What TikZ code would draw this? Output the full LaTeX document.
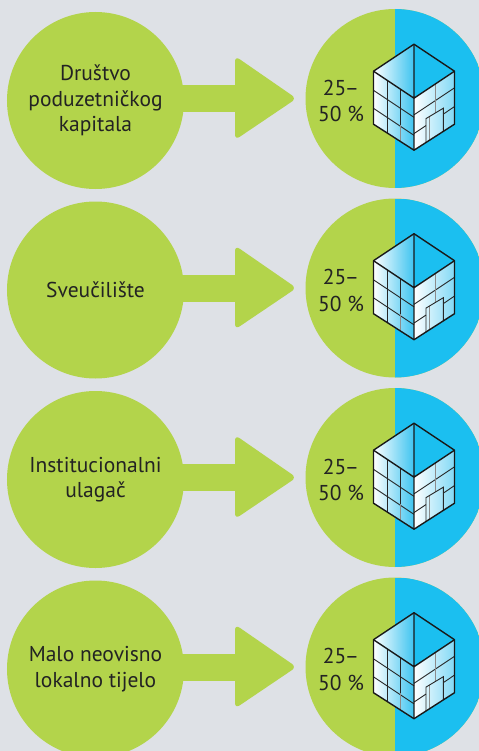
\documentclass[tikz,border=0pt]{standalone}
\usepackage{fontspec}
\setmainfont{PT Sans}
\definecolor{bg}{HTML}{DEE1E6}
\definecolor{egreen}{HTML}{B3D44B}
\definecolor{eblue}{HTML}{1BBFF0}
\definecolor{txt}{HTML}{232323}
\definecolor{faceblue}{HTML}{3EC4F0}
\tikzset{
  srccircle/.style={circle, fill=egreen, minimum size=177bp, inner sep=0pt,
    align=center, text=txt, font=\fontsize{21.5bp}{25.5bp}\selectfont},
  tgtcircle/.style={circle, fill=egreen, minimum size=179bp, inner sep=0pt,
    path picture={\fill[eblue] (path picture bounding box.north) rectangle (path picture bounding box.south east);}},
  pctlabel/.style={align=center, text=txt, inner sep=0pt, font=\fontsize{21.5bp}{26.5bp}\selectfont},
  edgeline/.style={draw=black!90, line width=1.4bp, line join=round},
  gridline/.style={draw=black!85, line width=0.9bp},
  grayline/.style={draw=black!45, line width=0.9bp},
  building/.pic={
    \shade[left color=white, right color=faceblue] (0,-54) -- (-40.5,-27) -- (0,0) -- cycle;
    \fill[eblue] (0,-54) -- (40.5,-27) -- (0,0) -- cycle;
    \shade[left color=white, right color=faceblue] (-40.5,-27) -- (0,0) -- (0,52) -- (-40.5,26) -- cycle;
    \shade[left color=white, right color=faceblue!65!white] (0,0) -- (40.5,-27) -- (40.5,26) -- (0,52) -- cycle;
    \draw[gridline] (-40.5,-7.9) -- (0,19.1) (-40.5,10.1) -- (0,37.1);
    \draw[gridline] (-27,-18) -- (-27,35) (-13.5,-9) -- (-13.5,26.3);
    \draw[grayline] (-13.5,26.3) -- (-13.5,44);
    \draw[gridline] (0,16.6) -- (40.5,-10.4);
    \draw[gridline] (0,35.4) -- (12,27.4) (29.3,15.9) -- (40.5,8.4);
    \draw[grayline] (21,-14) -- (21,15) (15,18.6) -- (15,42.4);
    \draw[gridline] (12,44.3) -- (12,20.4) -- (29.3,10) -- (29.3,33.2);
    \draw[edgeline] (0,-54) -- (40.5,-27) -- (40.5,26) -- (0,52) -- (-40.5,26) -- (-40.5,-27) -- cycle;
    \draw[edgeline] (-40.5,-27) -- (0,0) -- (40.5,-27) (0,-54) -- (0,52);
  }
}
\begin{document}
\begin{tikzpicture}[x=1bp,y=-1bp]
\useasboundingbox (0,0) rectangle (479,751);
\clip (0,0) rectangle (479,751);
\fill[bg] (0,0) rectangle (479,751);
\foreach \i/\yy/\lab in {1/98.5/{Društvo\\poduzetničkog\\kapitala},
                         2/288/{Sveučilište},
                         3/477.5/{Institucionalni\\ulagač},
                         4/667/{Malo neovisno\\lokalno tijelo}}{
  \begin{scope}[shift={(0,\yy)}]
    \node[srccircle] (src\i) at (95.5,2) {\lab};
    \node[tgtcircle] (tgt\i) at (395,0) {};
    \fill[egreen] (170,-13.5) rectangle (240,13.5);
    \fill[egreen, rounded corners=5.5bp] (235,-42.5) -- (296.5,0) -- (235,41.5) -- cycle;
    \node[pctlabel] (pct\i) at (341,2.5) {25\kern-1.5bp–\\50~\%};
    \pic (bld\i) at (414,-0.3) {building};
  \end{scope}
}
\end{tikzpicture}
\end{document}
